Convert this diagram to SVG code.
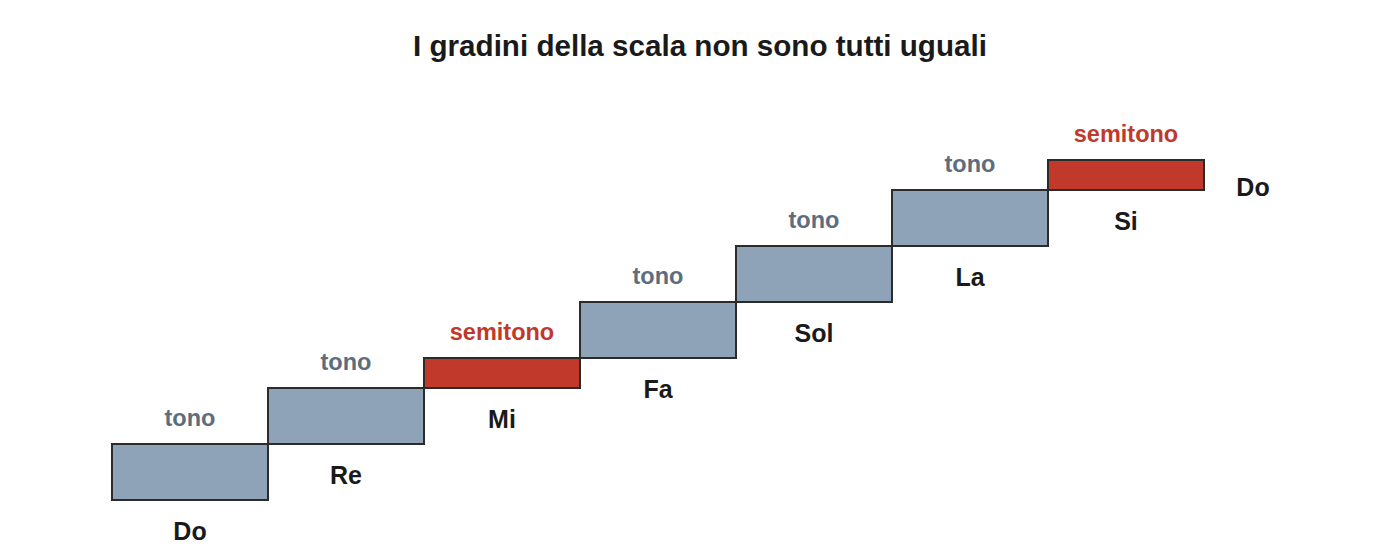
<svg xmlns="http://www.w3.org/2000/svg" width="1400" height="560" viewBox="0 0 1400 560">
<style>
.step{stroke:#2b2b2b;stroke-width:2}
.tone{fill:#8fa3b8}
.semi{fill:#c0392b}
.title{font-family:"Liberation Sans",Arial,sans-serif;font-weight:bold;font-size:29.6px;fill:#1a1a1a;text-anchor:middle}
.note{font-family:"Liberation Sans",Arial,sans-serif;font-weight:bold;font-size:25px;fill:#1a1a1a;text-anchor:middle}
.tl{font-family:"Liberation Sans",Arial,sans-serif;font-weight:bold;font-size:23.5px;fill:#5d6d7e;text-anchor:middle}
.sl{font-family:"Liberation Sans",Arial,sans-serif;font-weight:bold;font-size:23.5px;fill:#c0392b;text-anchor:middle}
</style>
<rect width="1400" height="560" fill="#ffffff"/>
<text class="title" x="700" y="56">I gradini della scala non sono tutti uguali</text>
<g id="step-do">
<rect class="step tone" x="112" y="444" width="156" height="56"/>
<text class="tl" x="190" y="426">tono</text>
<text class="note" x="190" y="540">Do</text>
</g>
<g id="step-re">
<rect class="step tone" x="268" y="388" width="156" height="56"/>
<text class="tl" x="346" y="370">tono</text>
<text class="note" x="346" y="484">Re</text>
</g>
<g id="step-mi">
<rect class="step semi" x="424" y="358" width="156" height="30"/>
<text class="sl" x="502" y="340">semitono</text>
<text class="note" x="502" y="428">Mi</text>
</g>
<g id="step-fa">
<rect class="step tone" x="580" y="302" width="156" height="56"/>
<text class="tl" x="658" y="284">tono</text>
<text class="note" x="658" y="398">Fa</text>
</g>
<g id="step-sol">
<rect class="step tone" x="736" y="246" width="156" height="56"/>
<text class="tl" x="814" y="228">tono</text>
<text class="note" x="814" y="342">Sol</text>
</g>
<g id="step-la">
<rect class="step tone" x="892" y="190" width="156" height="56"/>
<text class="tl" x="970" y="172">tono</text>
<text class="note" x="970" y="286">La</text>
</g>
<g id="step-si">
<rect class="step semi" x="1048" y="160" width="156" height="30"/>
<text class="sl" x="1126" y="142">semitono</text>
<text class="note" x="1126" y="230">Si</text>
</g>
<g id="note-do-high">
<text class="note" x="1253" y="196">Do</text>
</g>
<g id="connectors"></g>
</svg>
